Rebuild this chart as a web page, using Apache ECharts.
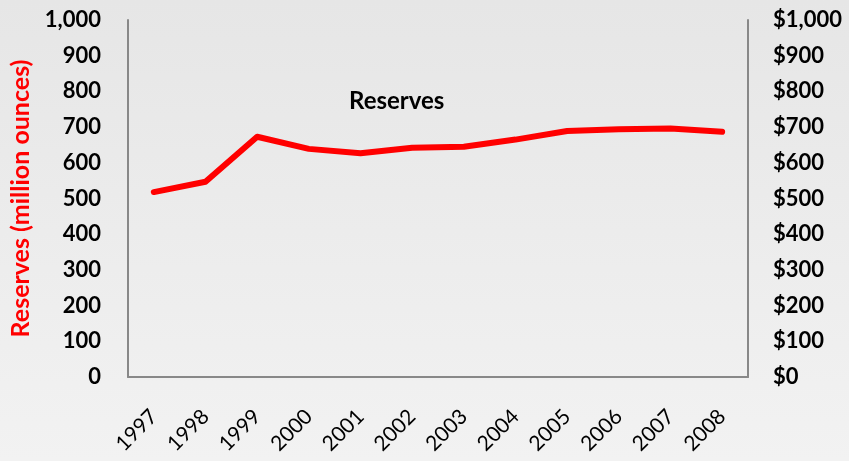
<!DOCTYPE html>
<html>
<head>
<meta charset="utf-8">
<script src="https://cdn.jsdelivr.net/npm/echarts@6/dist/echarts.min.js"></script>
<style>
  html, body { margin: 0; padding: 0; }
  #chart { width: 849px; height: 461px; }
</style>
</head>
<body>
<div id="chart"></div>
<script>
// Annual reserves, million ounces
const years = ['1997', '1998', '1999', '2000', '2001', '2002', '2003', '2004', '2005', '2006', '2007', '2008'];
const reserves = [518, 547, 673, 639, 627, 642, 645, 665, 689, 694, 696, 687];
const axisMin = 0;
const axisMax = 1000;
const axisStep = 100;

const fontFamily = 'Lato, "Open Sans", sans-serif';
const withCommas = v => String(v).replace(/\B(?=(\d{3})+(?!\d))/g, ',');

const chart = echarts.init(document.getElementById('chart'));
chart.setOption({
  backgroundColor: {
    type: 'linear', x: 0, y: 0, x2: 0, y2: 1,
    colorStops: [{ offset: 0, color: '#e6e6e6' }, { offset: 1, color: '#f2f2f2' }]
  },
  animation: false,
  title: {
    text: 'Reserves',
    left: 344,
    top: 84,
    textStyle: { fontFamily, fontWeight: 'bold', fontSize: 24, color: '#000' }
  },
  grid: { left: 128, right: 101, top: 20, bottom: 84 },
  xAxis: {
    type: 'category',
    data: years,
    boundaryGap: true,
    axisLine: { lineStyle: { color: '#888', width: 2 } },
    axisTick: { show: false },
    axisLabel: {
      rotate: 45,
      margin: 36,
      fontFamily, fontSize: 21, color: '#000'
    }
  },
  yAxis: [
    {
      type: 'value',
      min: axisMin, max: axisMax, interval: axisStep,
      name: 'Reserves (million ounces)',
      nameLocation: 'middle',
      nameGap: 94,
      nameTextStyle: { fontFamily, fontWeight: 'bold', fontSize: 25, color: '#ff0000' },
      axisLine: { show: true, lineStyle: { color: '#888', width: 2 } },
      axisTick: { show: false },
      splitLine: { show: false },
      axisLabel: {
        margin: 27,
        fontFamily, fontWeight: 'bold', fontSize: 22, color: '#000',
        formatter: v => withCommas(v)
      }
    },
    {
      type: 'value',
      position: 'right',
      min: axisMin, max: axisMax, interval: axisStep,
      axisLine: { show: true, lineStyle: { color: '#888', width: 2 } },
      axisTick: { show: false },
      splitLine: { show: false },
      axisLabel: {
        margin: 25,
        fontFamily, fontWeight: 'bold', fontSize: 22, color: '#000',
        formatter: v => '$' + withCommas(v)
      }
    }
  ],
  series: [{
    type: 'line',
    data: reserves,
    yAxisIndex: 0,
    showSymbol: false,
    symbol: 'none',
    lineStyle: { color: '#ff0000', width: 6, cap: 'round', join: 'round' }
  }]
});
</script>
</body>
</html>
